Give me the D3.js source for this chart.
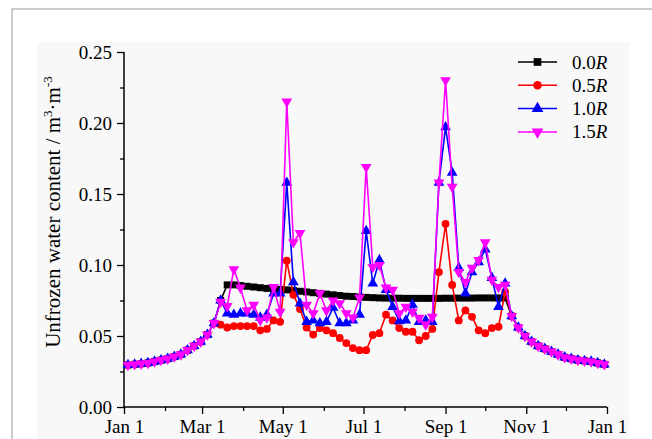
<!DOCTYPE html>
<html>
<head>
<meta charset="utf-8">
<script src="https://cdn.jsdelivr.net/npm/d3@7"></script>
<style>
  body { margin: 0; background: #fff; }
  svg text { font-family: "Liberation Serif", "Times New Roman", serif; fill: #000; }
</style>
</head>
<body>
<div id="chart"></div>
<script>
// sample days (day of year), every 5 days
var days = d3.range(3, 364, 5);

// frozen season, all runs share these
var winterHead = [0.0296, 0.030, 0.0305, 0.031, 0.032, 0.033, 0.034, 0.0355, 0.037, 0.040, 0.043, 0.046, 0.051, 0.059];
var winterTail = [0.064, 0.056, 0.050, 0.046, 0.043, 0.041, 0.039, 0.037, 0.035, 0.034, 0.033, 0.0325, 0.032, 0.031, 0.030];

// thawed season, one array per run
var r00 = [0.075, 0.086, 0.086, 0.0855, 0.085, 0.0845, 0.084, 0.0835, 0.083, 0.0828,
           0.0825, 0.082, 0.0815, 0.081, 0.0805, 0.080, 0.0795, 0.079, 0.0785, 0.078,
           0.0778, 0.0775, 0.0772, 0.077, 0.0768, 0.0767, 0.0766, 0.0766, 0.0765, 0.0765,
           0.0765, 0.0765, 0.0765, 0.0765, 0.0766, 0.0766, 0.0767, 0.0767, 0.0767, 0.0768,
           0.0768, 0.0768, 0.0768, 0.0768];
var r05 = [0.058, 0.056, 0.057, 0.057, 0.057, 0.057, 0.054, 0.055, 0.061, 0.060,
           0.103, 0.079, 0.069, 0.056, 0.051, 0.0556, 0.054, 0.052, 0.0486, 0.045,
           0.0415, 0.040, 0.040, 0.0507, 0.052, 0.065, 0.061, 0.0556, 0.053, 0.053,
           0.047, 0.050, 0.055, 0.095, 0.129, 0.086, 0.061, 0.068, 0.0635, 0.054,
           0.052, 0.0556, 0.0565, 0.081];
var r10 = [0.075, 0.066, 0.065, 0.066, 0.066, 0.065, 0.063, 0.065, 0.080, 0.080,
           0.158, 0.088, 0.073, 0.060, 0.061, 0.059, 0.060, 0.070, 0.059, 0.059,
           0.061, 0.065, 0.124, 0.087, 0.1035, 0.0825, 0.0705, 0.0605, 0.061, 0.072,
           0.060, 0.061, 0.060, 0.158, 0.197, 0.165, 0.098, 0.080, 0.095, 0.102,
           0.111, 0.091, 0.0705, 0.087];
var r15 = [0.074, 0.071, 0.097, 0.084, 0.068, 0.072, 0.061, 0.063, 0.0845, 0.067,
           0.215, 0.116, 0.1225, 0.072, 0.066, 0.080, 0.068, 0.075, 0.073, 0.066,
           0.063, 0.077, 0.169, 0.0986, 0.100, 0.084, 0.0825, 0.066, 0.0705, 0.067,
           0.0627, 0.058, 0.0634, 0.158, 0.230, 0.155, 0.095, 0.088, 0.098, 0.1035,
           0.116, 0.0895, 0.0845, 0.086];

var seriesNames = ["0.0", "0.5", "1.0", "1.5"];
var seriesColors = ["#000000", "#ff0000", "#0000ff", "#ff00ff"];
var seriesSymbols = [d3.symbolSquare, d3.symbolCircle, d3.symbolTriangle, d3.symbolTriangle];
var seriesRotate = [0, 0, 0, 180];
var seriesSize = [49, 48, 50, 50];

var yTicks = [0, 0.05, 0.10, 0.15, 0.20, 0.25];
var xTickLabels = ["Jan 1", "Mar 1", "May 1", "Jul 1", "Sep 1", "Nov 1", "Jan 1"];

var svgWidth = 652;
var svgHeight = 439;
var chartMargin = { top: 52, right: 45, bottom: 32, left: 124 };
var chartWidth = svgWidth - chartMargin.left - chartMargin.right;
var chartHeight = svgHeight - chartMargin.top - chartMargin.bottom;

var svg = d3.select("#chart")
  .append("svg")
  .attr("width", svgWidth)
  .attr("height", svgHeight);

// outer frame and plot background
svg.append("rect")
  .attr("x", 12).attr("y", 9)
  .attr("width", 700).attr("height", 500)
  .attr("fill", "#fff")
  .attr("stroke", "#a9a9a9")
  .attr("stroke-width", 1.2);

svg.append("rect")
  .attr("x", 37).attr("y", 42)
  .attr("width", 592).attr("height", 420)
  .attr("fill", "#f8f8f8");

var chartGroup = svg.append("g")
  .attr("transform", `translate(${chartMargin.left}, ${chartMargin.top})`);

var t0 = new Date(2019, 0, 1);
var t1 = new Date(2020, 0, 1);
var xScale = d3.scaleTime().domain([t0, t1]).range([0, chartWidth]);
var yScale = d3.scaleLinear().domain([0, 0.25]).range([chartHeight, 0]);

var dates = days.map(d => d3.timeDay.offset(t0, d));

var allSeries = [r00, r05, r10, r15].map(function(vals, i) {
  var v = winterHead.concat(vals, winterTail);
  return v.map((y, j) => ({ date: dates[j], value: y }));
});

// axes
var majorX = d3.timeMonth.every(2).range(t0, d3.timeDay.offset(t1, 1));
var minorX = d3.timeMonth.range(t0, t1).filter(d => d.getMonth() % 2 == 1);

var bottomAxis = d3.axisBottom(xScale)
  .tickValues(majorX)
  .tickFormat((d, i) => xTickLabels[i])
  .tickSize(7)
  .tickPadding(6);

var xAxisG = chartGroup.append("g")
  .attr("transform", `translate(0, ${chartHeight})`)
  .call(bottomAxis);

chartGroup.append("g")
  .attr("transform", `translate(0, ${chartHeight})`)
  .call(d3.axisBottom(xScale).tickValues(minorX).tickFormat("").tickSize(4))
  .select(".domain").remove();

var leftAxis = d3.axisLeft(yScale)
  .tickValues(yTicks)
  .tickFormat(d3.format(".2f"))
  .tickSize(7)
  .tickPadding(5);

var yAxisG = chartGroup.append("g").call(leftAxis);

chartGroup.append("g")
  .call(d3.axisLeft(yScale).tickValues([0.025, 0.075, 0.125, 0.175, 0.225]).tickFormat("").tickSize(4))
  .select(".domain").remove();

chartGroup.selectAll(".domain").attr("stroke-width", 1.5);
chartGroup.selectAll(".tick line").attr("stroke-width", 1.3);
xAxisG.select(".domain").attr("d", `M0,0H${chartWidth}`);
yAxisG.select(".domain").attr("d", `M0,0V${chartHeight}`);

xAxisG.selectAll("text").style("font-size", "19px").attr("font-family", null);
yAxisG.selectAll("text").style("font-size", "19px").attr("font-family", null);

// lines + markers
var line = d3.line()
  .x(d => xScale(d.date))
  .y(d => yScale(d.value));

allSeries.forEach(function(data, i) {
  var g = chartGroup.append("g");
  g.append("path")
    .datum(data)
    .attr("d", line)
    .attr("fill", "none")
    .attr("stroke", seriesColors[i])
    .attr("stroke-width", 1.6);

  g.selectAll("path.mark")
    .data(data)
    .enter()
    .append("path")
    .attr("class", "mark")
    .attr("d", d3.symbol().type(seriesSymbols[i]).size(seriesSize[i]))
    .attr("transform", d => `translate(${xScale(d.date)}, ${yScale(d.value)}) rotate(${seriesRotate[i]})`)
    .attr("fill", seriesColors[i]);
});

// legend
var legend = svg.append("g").attr("transform", "translate(518, 62)");
seriesNames.forEach(function(name, i) {
  var row = legend.append("g").attr("transform", `translate(0, ${i * 23.3})`);
  row.append("line")
    .attr("x1", 0).attr("x2", 39)
    .attr("stroke", seriesColors[i])
    .attr("stroke-width", 1.5);
  row.append("path")
    .attr("d", d3.symbol().type(seriesSymbols[i]).size(seriesSize[i] + 10))
    .attr("transform", `translate(19.5, 0) rotate(${seriesRotate[i]})`)
    .attr("fill", seriesColors[i]);
  var t = row.append("text")
    .attr("x", 54)
    .attr("y", 6.5)
    .style("font-size", "19px");
  t.append("tspan").text(name);
  t.append("tspan").style("font-style", "italic").text("R");
});

// y label
var ylab = svg.append("text")
  .attr("transform", "rotate(-90)")
  .attr("x", -212)
  .attr("y", 60)
  .style("text-anchor", "middle")
  .style("font-size", "21px");
ylab.append("tspan").text("Unfrozen water content / m");
ylab.append("tspan").attr("dy", -8).style("font-size", "13px").text("3");
ylab.append("tspan").attr("dy", 8).text("\u00b7m");
ylab.append("tspan").attr("dy", -8).style("font-size", "13px").text("-3");
</script>
</body>
</html>
